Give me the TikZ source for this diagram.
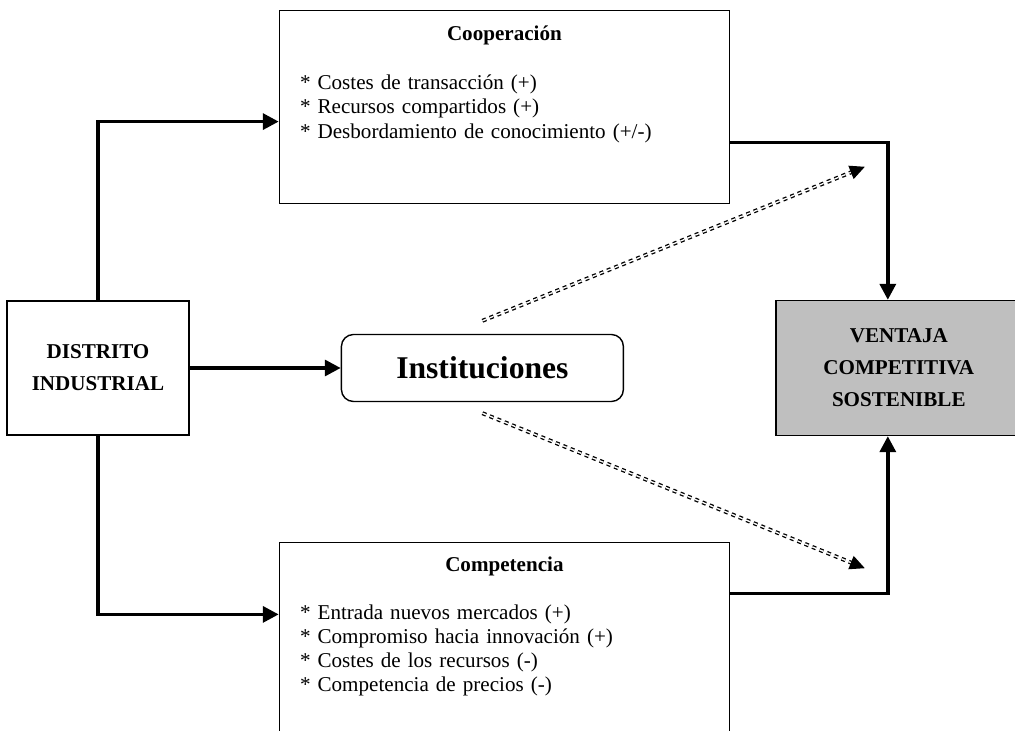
\documentclass[tikz,border=0pt]{standalone}
\usepackage{fontspec}
\setmainfont{Liberation Serif}
\usepackage{xcolor}
\usepackage{tikz}
\usetikzlibrary{shapes.geometric, arrows.meta, positioning}

\begin{document}
\begin{tikzpicture}[
        font=\fontsize{12}{13.7}\selectfont,
        district/.style={rectangle, minimum width=3.64cm, minimum height=2.68cm, inner sep=0pt, align=center, draw=black, thick, font=\fontsize{12}{18.2}\selectfont\bfseries},
        panel/.style={rectangle, minimum width=9cm, minimum height=3.86cm, draw=black, thick},
        institution/.style={rectangle, rounded corners=0.24cm, minimum width=5.64cm, minimum height=1.34cm, draw=black, thick, font=\fontsize{18}{20}\selectfont\bfseries},
        outcome/.style={rectangle, minimum width=4.92cm, minimum height=2.7cm, align=center, draw=black, thick, fill=black!25, font=\fontsize{12}{18.2}\selectfont\bfseries},
        heading/.style={inner sep=0pt, font=\fontsize{12}{13.7}\selectfont\bfseries},
        items/.style={inner sep=0pt, text width=8cm, align=left},
        arrow/.style={line width=2pt, -{Triangle[length=9pt, width=9pt]}},
        dotarrow/.style={double, double distance=0.75pt, line width=0.75pt, dash pattern=on 2.3pt off 2.2pt, -{Triangle[length=8.5pt, width=8pt]}}
    ]

    \useasboundingbox (0,0) rectangle (20.3,-14.62);

    \node (distrito) [district] at (1.96,-7.36) {DISTRITO\\INDUSTRIAL};
    \node (inst) [institution, right=3.02cm of distrito] {Instituciones};
    \node (ventaja) [outcome, right=3.02cm of inst] {VENTAJA\\COMPETITIVA\\SOSTENIBLE};

    \node (coop) [panel, above right=1.92cm and 1.78cm of distrito] {};
    \node (cooptitle) [heading, below=0.62cm of coop.north, anchor=base] {Cooperación};
    \node (cooplist) [items, below right=1.6cm and 0.42cm of coop.north west, anchor=base west] {* Costes de transacción (+)\\{}* Recursos compartidos (+)\\{}* Desbordamiento de conocimiento (+/-)};

    \node (comp) [panel, minimum height=4cm, below right=2.12cm and 1.78cm of distrito] {};
    \node (comptitle) [heading, below=0.6cm of comp.north, anchor=base] {Competencia};
    \node (complist) [items, below right=1.56cm and 0.42cm of comp.north west, anchor=base west] {* Entrada nuevos mercados (+)\\{}* Compromiso hacia innovación (+)\\{}* Costes de los recursos (-)\\{}* Competencia de precios (-)};

    \coordinate (upfrom) at ([yshift=0.26cm]inst.north);
    \coordinate (downfrom) at ([yshift=-0.22cm]inst.south);
    \coordinate (upto) at ([xshift=-0.68cm, yshift=2.66cm]ventaja.north);
    \coordinate (downto) at ([xshift=-0.68cm, yshift=-2.64cm]ventaja.south);

    \draw [arrow] (distrito.north) |- ([yshift=-0.29cm]coop.west);
    \draw [arrow] (distrito.south) |- ([yshift=0.56cm]comp.west);
    \draw [arrow] (distrito) -- (inst);
    \draw [arrow] ([yshift=-0.71cm]coop.east) -| ([xshift=-0.22cm]ventaja.north);
    \draw [arrow] ([yshift=0.98cm]comp.east) -| ([xshift=-0.22cm]ventaja.south);
    \draw [dotarrow] (upfrom) -- (upto);
    \draw [dotarrow] (downfrom) -- (downto);

\end{tikzpicture}
\end{document}
